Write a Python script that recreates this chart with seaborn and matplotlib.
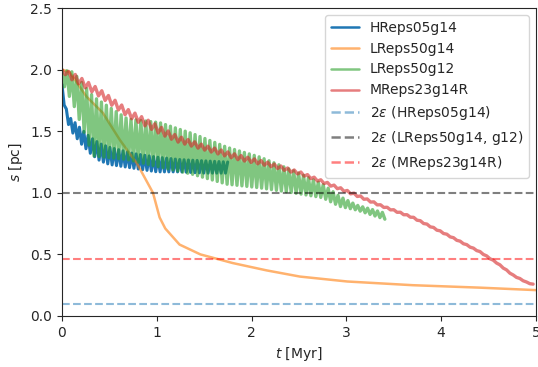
import numpy as np
import pandas as pd
import matplotlib
matplotlib.use("Agg")
import matplotlib.pyplot as plt
import seaborn as sns

# Separation s(t) of the two clusters in each run, given as envelope readings
# (time in Myr, upper / lower bound of the orbital oscillation in pc)
t_H = [0.0, 0.03, 0.06, 0.10, 0.20, 0.30, 0.40, 0.50, 0.75, 1.00, 1.25, 1.50, 1.75]
up_H = [1.88, 1.75, 1.62, 1.60, 1.52, 1.45, 1.40, 1.37, 1.32, 1.29, 1.27, 1.26, 1.25]
lo_H = [1.82, 1.68, 1.57, 1.50, 1.40, 1.32, 1.26, 1.23, 1.20, 1.17, 1.17, 1.16, 1.16]
period_H = 0.046

t_L12 = [0.0, 0.12, 0.33, 0.69, 1.03, 1.38, 1.74, 2.09, 2.44, 2.75, 2.93, 3.11, 3.43]
up_L12 = [2.00, 1.98, 1.78, 1.60, 1.57, 1.48, 1.37, 1.29, 1.18, 1.07, 0.97, 0.90, 0.83]
lo_L12 = [1.90, 1.72, 1.30, 1.27, 1.21, 1.15, 1.07, 1.04, 1.00, 0.96, 0.89, 0.86, 0.78]
period_L12 = 0.052

t_M = [0.0, 0.10, 0.40, 0.69, 1.03, 1.21, 1.49, 1.85, 2.19, 2.51, 2.75, 3.11,
       3.35, 3.70, 4.06, 4.41, 4.59, 4.76, 4.91, 5.00]
mid_M = [1.99, 1.95, 1.81, 1.65, 1.51, 1.44, 1.37, 1.29, 1.23, 1.16, 1.09, 0.98,
         0.90, 0.80, 0.66, 0.52, 0.43, 0.33, 0.27, 0.25]
amp_M = [0.01, 0.03, 0.03, 0.03, 0.03, 0.025, 0.02, 0.02, 0.015, 0.012, 0.01, 0.008,
         0.006, 0.005, 0.004, 0.003, 0.003, 0.003, 0.002, 0.002]
period_M = 0.07

t_L14 = [0.0, 0.08, 0.26, 0.43, 0.61, 0.79, 0.96, 1.03, 1.09, 1.24, 1.46, 1.80,
         2.16, 2.51, 3.01, 3.70, 4.41, 5.00]
s_L14 = [2.00, 1.98, 1.78, 1.65, 1.43, 1.24, 1.00, 0.80, 0.71, 0.58, 0.50, 0.43,
         0.37, 0.32, 0.28, 0.25, 0.23, 0.21]

# Twice the softening length of each run
eps2_H = 0.10
eps2_L = 1.00
eps2_M = 0.46


def zigzag(t, upper, lower, period):
    """Alternate between the upper and lower envelope every half period."""
    tt = np.arange(t[0], t[-1] + 1e-9, period / 2)
    up = np.interp(tt, t, upper)
    lo = np.interp(tt, t, lower)
    s = np.where(np.arange(tt.size) % 2 == 0, up, lo)
    return tt, s


tH, sH = zigzag(t_H, up_H, lo_H, period_H)
tG, sG = zigzag(t_L12, up_L12, lo_L12, period_L12)
mid = np.array(mid_M)
amp = np.array(amp_M)
tR, sR = zigzag(t_M, mid + amp, mid - amp, period_M)

sns.set_style("ticks")
plt.rcParams["font.family"] = ["DejaVu Sans"]
plt.rcParams["mathtext.fontset"] = "dejavusans"

fig = plt.figure(figsize=(5.38, 3.67), dpi=100)
ax = fig.add_axes([0.1152, 0.139, 0.881, 0.839])

sns.lineplot(x=tH, y=sH, ax=ax, color="tab:blue", lw=2.2, label="HReps05g14",
             estimator=None, sort=False)
sns.lineplot(x=t_L14, y=s_L14, ax=ax, color="tab:orange", alpha=0.6, lw=1.8,
             label="LReps50g14", estimator=None, sort=False)
sns.lineplot(x=tG, y=sG, ax=ax, color="tab:green", alpha=0.6, lw=2.4,
             label="LReps50g12", estimator=None, sort=False)
sns.lineplot(x=tR, y=sR, ax=ax, color="tab:red", alpha=0.6, lw=2.4,
             label="MReps23g14R", estimator=None, sort=False)

ax.axhline(eps2_H, color="tab:blue", alpha=0.5, ls="--", lw=1.5,
           label=r"2$\varepsilon$ (HReps05g14)")
ax.axhline(eps2_L, color="k", alpha=0.5, ls="--", lw=1.5,
           label=r"2$\varepsilon$ (LReps50g14, g12)")
ax.axhline(eps2_M, color="r", alpha=0.5, ls="--", lw=1.5,
           label=r"2$\varepsilon$ (MReps23g14R)")

ax.set_xlim(0, 5)
ax.set_ylim(0, 2.5)
ax.set_xticks([0, 1, 2, 3, 4, 5])
ax.set_yticks([0.0, 0.5, 1.0, 1.5, 2.0, 2.5])
ax.set_xlabel(r"$t$ [Myr]")
ax.set_ylabel(r"$s$ [pc]")
leg = ax.legend(loc="upper right", fontsize=10, frameon=True)
for line in leg.get_lines():
    line.set_linewidth(1.8)

fig.savefig("out.png", dpi=100)
